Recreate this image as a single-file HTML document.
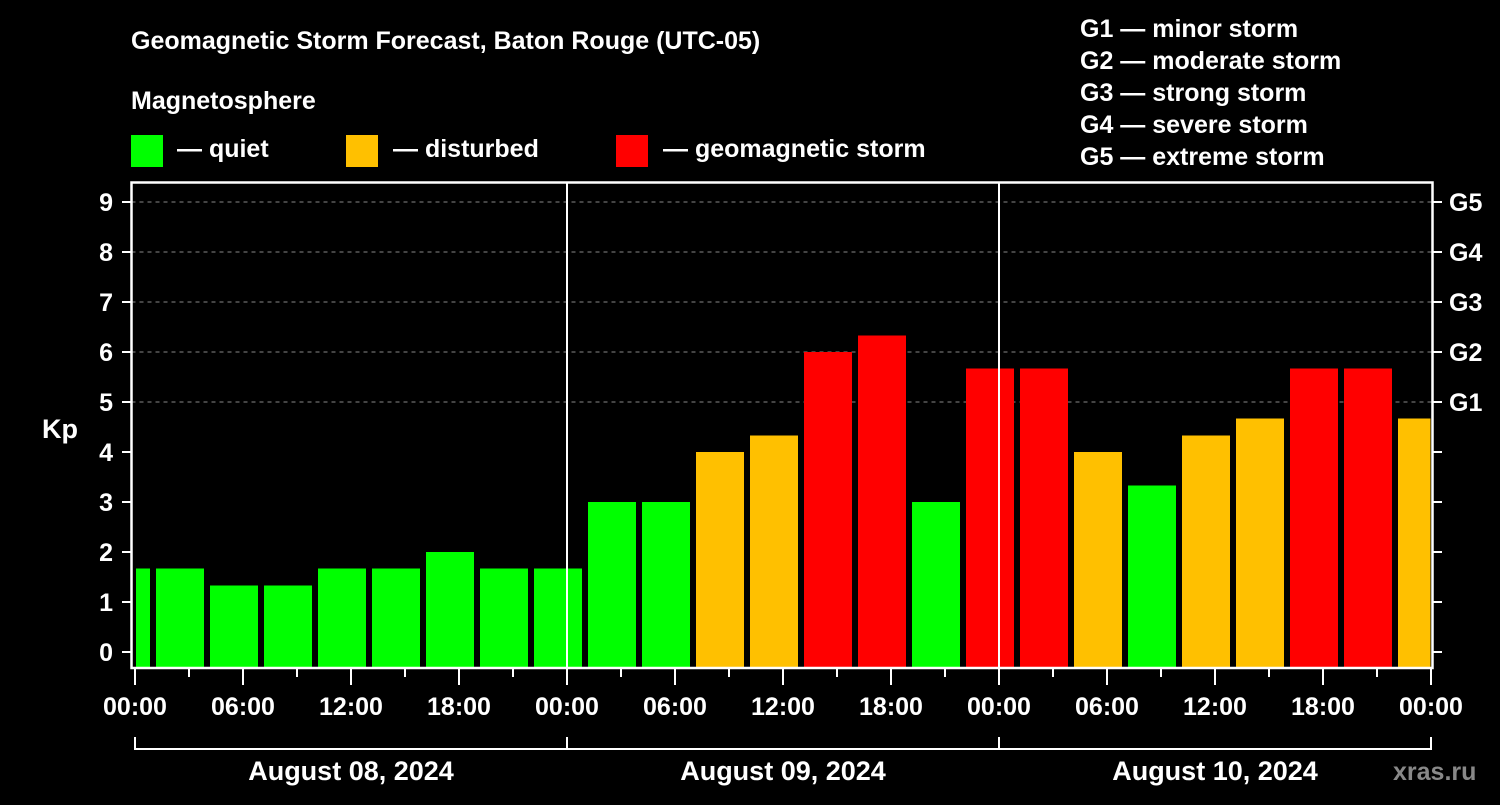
<!DOCTYPE html>
<html><head><meta charset="utf-8"><style>
body{margin:0;background:#000;}
svg text{font-family:"Liberation Sans",Arial,sans-serif;font-weight:bold;fill:#fff;}
</style></head><body>
<svg id="chart" width="1500" height="800" viewBox="0 0 1500 800" xmlns="http://www.w3.org/2000/svg">
<rect width="1500" height="800" fill="#000"/>
<text x="131" y="49" font-size="25">Geomagnetic Storm Forecast, Baton Rouge (UTC-05)</text>
<text x="131" y="109" font-size="25">Magnetosphere</text>
<g><rect x="131" y="135" width="32" height="32" fill="#00ff00"/><text x="177" y="157" font-size="25">— quiet</text></g>
<g><rect x="346" y="135" width="32" height="32" fill="#ffc000"/><text x="393" y="157" font-size="25">— disturbed</text></g>
<g><rect x="616" y="135" width="32" height="32" fill="#ff0000"/><text x="663" y="157" font-size="25">— geomagnetic storm</text></g>
<g font-size="25">
<text x="1080" y="37">G1 — minor storm</text>
<text x="1080" y="69">G2 — moderate storm</text>
<text x="1080" y="101">G3 — strong storm</text>
<text x="1080" y="133">G4 — severe storm</text>
<text x="1080" y="165">G5 — extreme storm</text>
</g>
<text x="42" y="438" font-size="27">Kp</text>
<g id="grid"></g><g id="bars"></g><g id="axes"></g>
<text x="1393" y="780" font-size="25" fill="#888" style="fill:#888">xras.ru</text>
</svg>
<script>
const values=[1.67,1.67,1.33,1.33,1.67,1.67,2,1.67,1.67,3,3,4,4.33,6,6.33,3,5.67,5.67,4,3.33,4.33,4.67,5.67,5.67,4.67];
const startHour=-2;
const yTicks=[0,1,2,3,4,5,6,7,8,9];
const gLabels=["G1","G2","G3","G4","G5"];
const xTickLabels=["00:00","06:00","12:00","18:00","00:00","06:00","12:00","18:00","00:00","06:00","12:00","18:00","00:00"];
const days=["August 08, 2024","August 09, 2024","August 10, 2024"];
const NS="http://www.w3.org/2000/svg";
const X0=135,PX=18,L=131.5,R=1432.5,T=182.5,B=668;
const x=h=>X0+h*PX, y=k=>652-50*k;
function mk(p,tag,a,txt){const e=document.createElementNS(NS,tag);for(const k in a)e.setAttribute(k,a[k]);if(txt!=null)e.textContent=txt;p.appendChild(e);return e;}
const grid=document.getElementById('grid'),bars=document.getElementById('bars'),axes=document.getElementById('axes');
[5,6,7,8,9].forEach(k=>{const l=mk(grid,'line',{x1:L,x2:R,y1:y(k),y2:y(k),stroke:'#888','stroke-dasharray':'4 4','stroke-width':1});

});
values.forEach((v,i)=>{let x1=Math.max(x(startHour+i*3)+3,X0+1),x2=Math.min(x(startHour+i*3+3)-3,R-2);
const c=v>=5?'#ff0000':(v>=4?'#ffc000':'#00ff00');
const r=mk(bars,'rect',{x:x1,y:y(v),width:x2-x1,height:B-y(v),fill:c});

});
[24,48].forEach(h=>{const l=mk(axes,'line',{x1:x(h),x2:x(h),y1:T,y2:B,stroke:'#fff','stroke-width':2});

});
const fr=mk(axes,'rect',{x:L,y:T,width:R-L,height:B-T,fill:'none',stroke:'#fff','stroke-width':2.5});


yTicks.forEach(k=>{mk(axes,'line',{x1:122,x2:L,y1:y(k),y2:y(k),stroke:'#fff','stroke-width':2});
mk(axes,'line',{x1:R,x2:1442,y1:y(k),y2:y(k),stroke:'#fff','stroke-width':2});
const t=mk(axes,'text',{x:113,y:y(k)+9,'font-size':25,'text-anchor':'end'},String(k));

});
gLabels.forEach((g,i)=>{const t=mk(axes,'text',{x:1449,y:y(5+i)+9,'font-size':25},g);

});
for(let h=0;h<=72;h+=3){const major=h%6===0;mk(axes,'line',{x1:x(h),x2:x(h),y1:B,y2:major?685:677,stroke:'#fff','stroke-width':2});}
xTickLabels.forEach((s,i)=>{const t=mk(axes,'text',{x:x(i*6),y:715,'font-size':25,'text-anchor':'middle'},s);

});
mk(axes,'path',{d:`M${x(0)} 737V749H${x(72)}V737M${x(24)} 737V749M${x(48)} 737V749`,fill:'none',stroke:'#fff','stroke-width':2});
days.forEach((d,i)=>{const t=mk(axes,'text',{x:x(i*24+12),y:780,'font-size':27,'text-anchor':'middle'},d);

});
</script>
</body></html>
